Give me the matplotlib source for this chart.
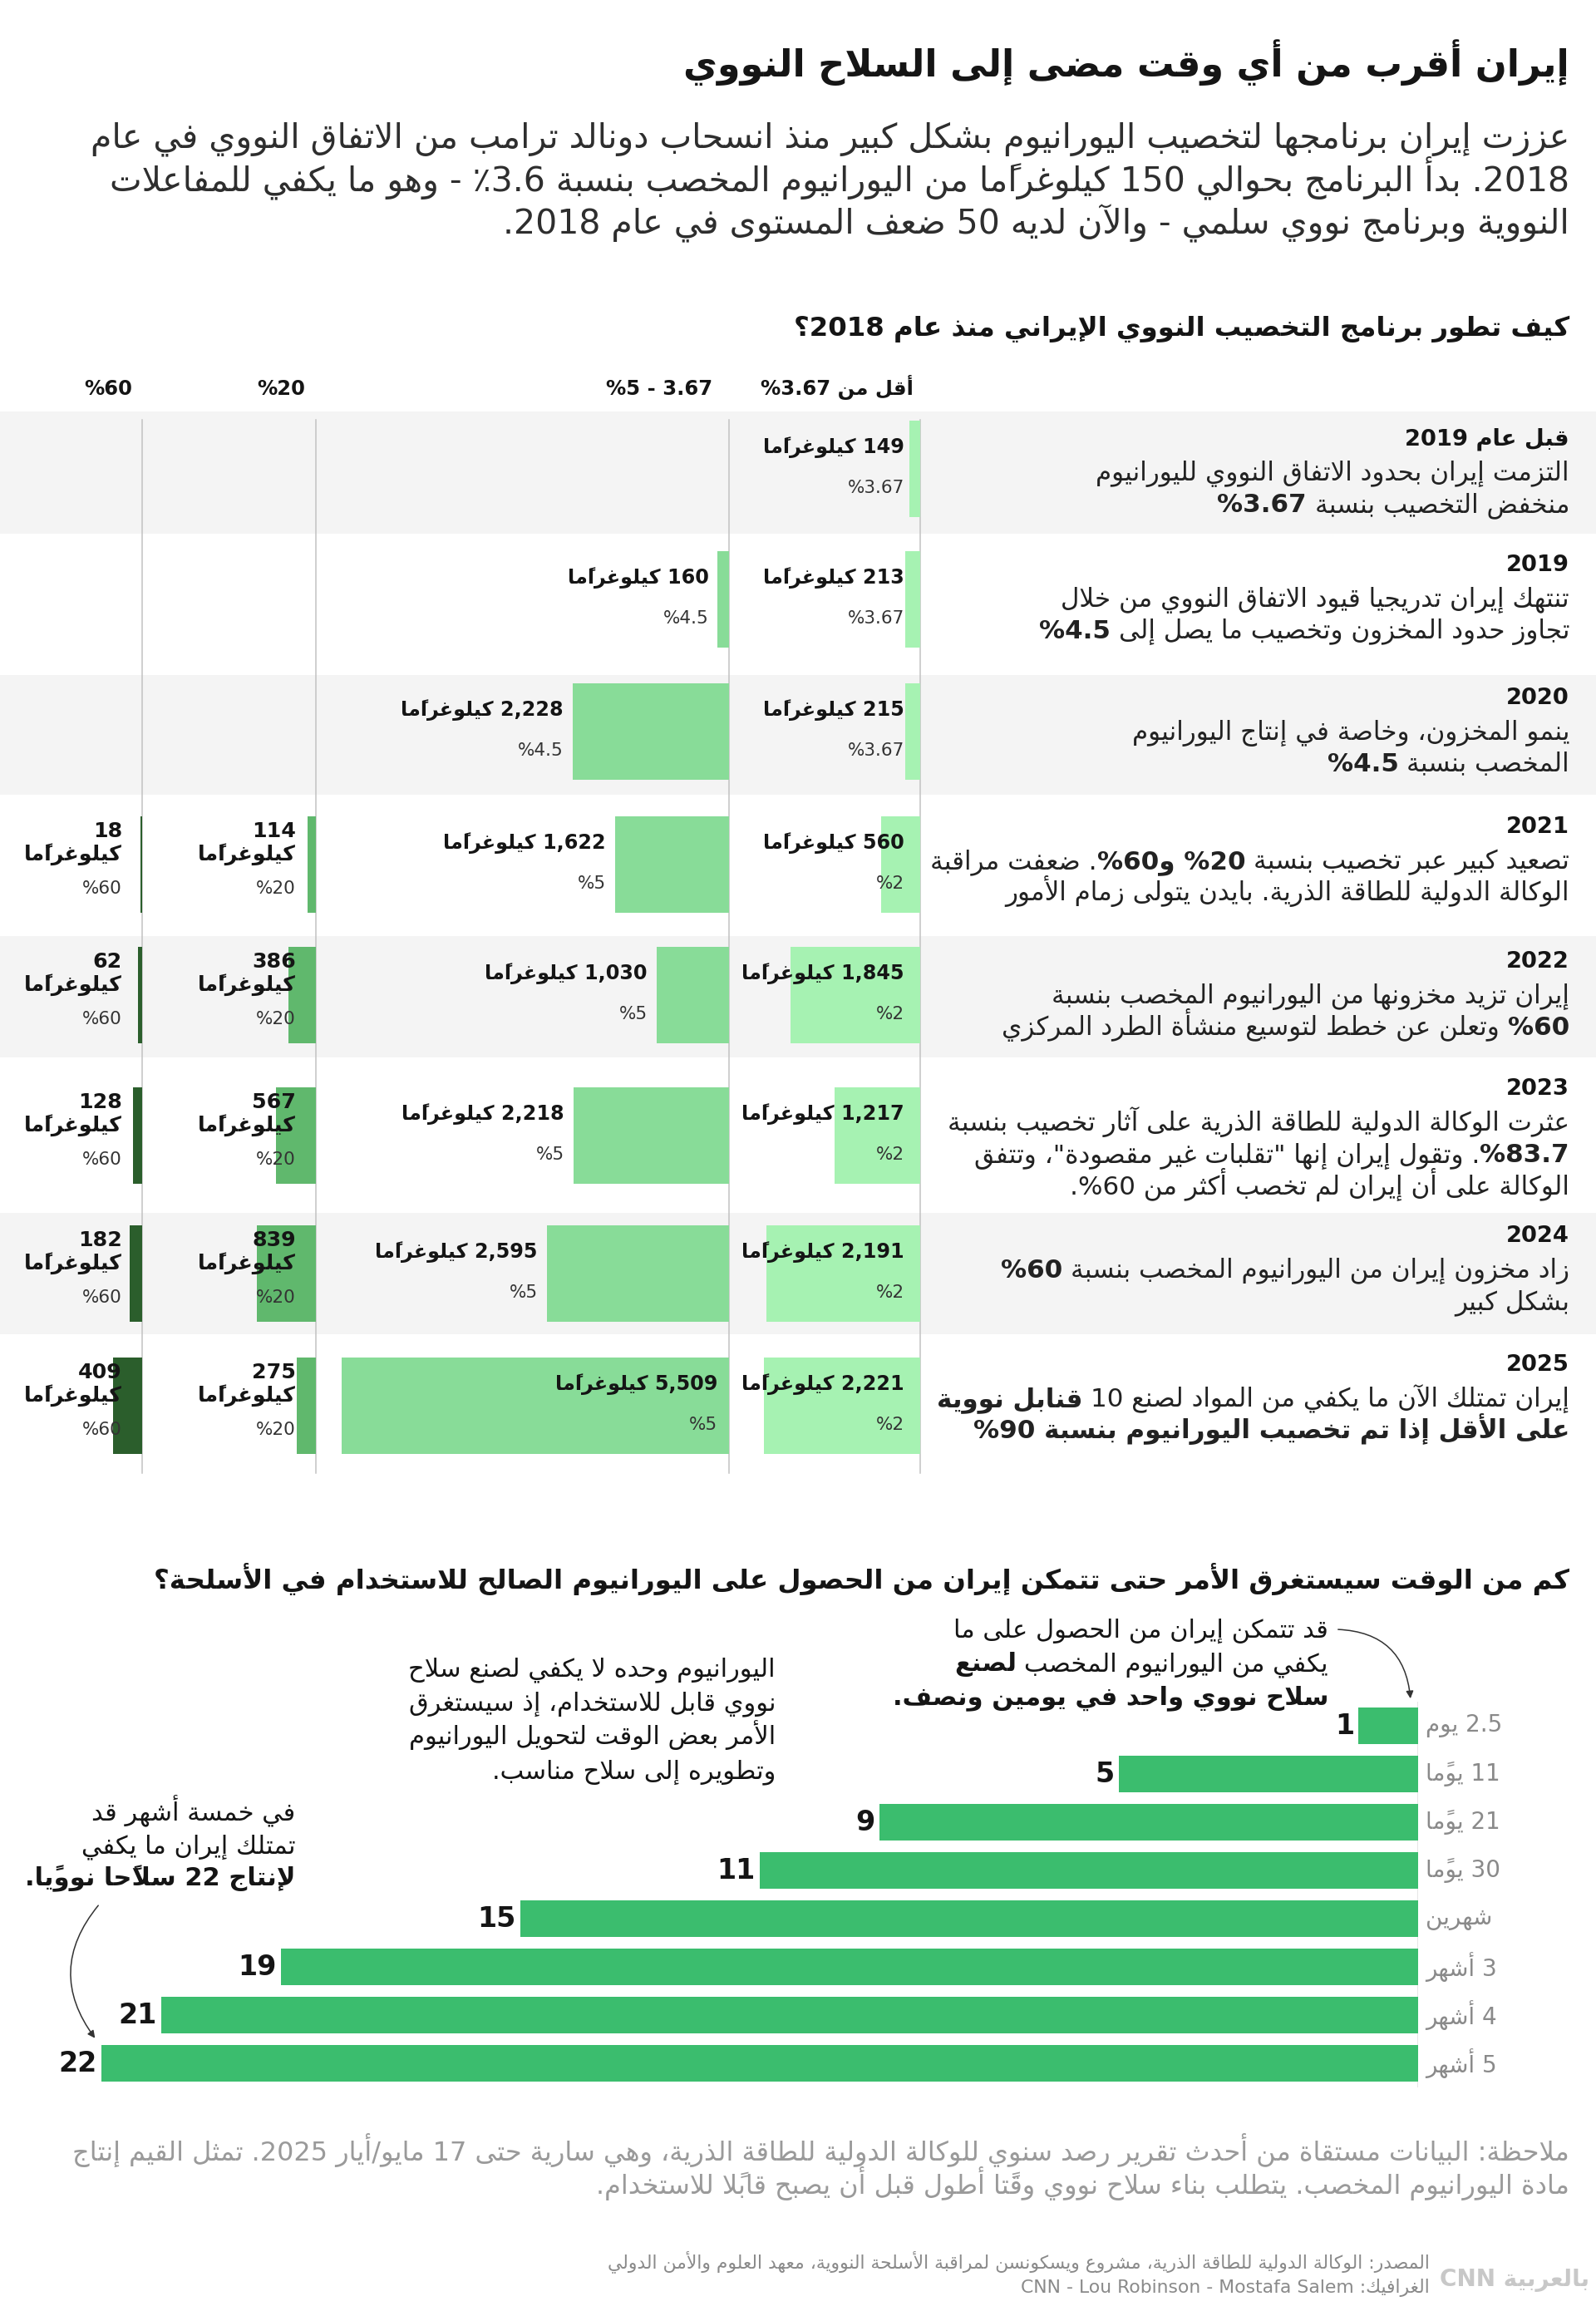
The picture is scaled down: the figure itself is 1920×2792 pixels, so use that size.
import matplotlib
matplotlib.use("Agg")
import matplotlib.pyplot as plt
from matplotlib.patches import Rectangle, FancyArrowPatch

# ---------------- data ----------------
title = "إيران أقرب من أي وقت مضى إلى السلاح النووي"
subtitle = [
    "عززت إيران برنامجها لتخصيب اليورانيوم بشكل كبير منذ انسحاب دونالد ترامب من الاتفاق النووي في عام",
    "2018. بدأ البرنامج بحوالي 150 كيلوغرامًا من اليورانيوم المخصب بنسبة 3.6٪ - وهو ما يكفي للمفاعلات",
    "النووية وبرنامج نووي سلمي - والآن لديه 50 ضعف المستوى في عام 2018.",
]
section1 = "كيف تطور برنامج التخصيب النووي الإيراني منذ عام 2018؟"
col_headers = ["أقل من 3.67%", "3.67 - 5%", "20%", "60%"]

years = ["قبل عام 2019", "2019", "2020", "2021", "2022", "2023", "2024", "2025"]
notes = [
    [[("التزمت إيران بحدود الاتفاق النووي لليورانيوم", False)],
     [("منخفض التخصيب بنسبة ", False), ("3.67%", True)]],
    [[("تنتهك إيران تدريجيا قيود الاتفاق النووي من خلال", False)],
     [("تجاوز حدود المخزون وتخصيب ما يصل إلى ", False), ("4.5%", True)]],
    [[("ينمو المخزون، وخاصة في إنتاج اليورانيوم", False)],
     [("المخصب بنسبة ", False), ("4.5%", True)]],
    [[("تصعيد كبير عبر تخصيب بنسبة ", False), ("20% و60%", True), (". ضعفت مراقبة", False)],
     [("الوكالة الدولية للطاقة الذرية. بايدن يتولى زمام الأمور", False)]],
    [[("إيران تزيد مخزونها من اليورانيوم المخصب بنسبة", False)],
     [("60%", True), (" وتعلن عن خطط لتوسيع منشأة الطرد المركزي", False)]],
    [[("عثرت الوكالة الدولية للطاقة الذرية على آثار تخصيب بنسبة", False)],
     [("83.7%", True), ('. وتقول إيران إنها "تقلبات غير مقصودة"، وتتفق', False)],
     [("الوكالة على أن إيران لم تخصب أكثر من 60%.", False)]],
    [[("زاد مخزون إيران من اليورانيوم المخصب بنسبة ", False), ("60%", True)],
     [("بشكل كبير", False)]],
    [[("إيران تمتلك الآن ما يكفي من المواد لصنع 10 ", False), ("قنابل نووية", True)],
     [("على الأقل إذا تم تخصيب اليورانيوم بنسبة 90%", True)]],
]

kg_low = [149, 213, 215, 560, 1845, 1217, 2191, 2221]
pct_low = ["3.67%", "3.67%", "3.67%", "2%", "2%", "2%", "2%", "2%"]
kg_mid = [0, 160, 2228, 1622, 1030, 2218, 2595, 5509]
pct_mid = ["", "4.5%", "4.5%", "5%", "5%", "5%", "5%", "5%"]
kg_20 = [0, 0, 0, 114, 386, 567, 839, 275]
pct_20 = ["", "", "", "20%", "20%", "20%", "20%", "20%"]
kg_60 = [0, 0, 0, 18, 62, 128, 182, 409]
pct_60 = ["", "", "", "60%", "60%", "60%", "60%", "60%"]
kg_word = "كيلوغرامًا"

section2 = "كم من الوقت سيستغرق الأمر حتى تتمكن إيران من الحصول على اليورانيوم الصالح للاستخدام في الأسلحة؟"
times = ["2.5 يوم", "11 يومًا", "21 يومًا", "30 يومًا", "شهرين", "3 أشهر", "4 أشهر", "5 أشهر"]
weapons = [1, 5, 9, 11, 15, 19, 21, 22]

note_right = [[("قد تتمكن إيران من الحصول على ما", False)],
              [("يكفي من اليورانيوم المخصب ", False), ("لصنع", True)],
              [("سلاح نووي واحد في يومين ونصف.", True)]]
note_mid = [[("اليورانيوم وحده لا يكفي لصنع سلاح", False)],
            [("نووي قابل للاستخدام، إذ سيستغرق", False)],
            [("الأمر بعض الوقت لتحويل اليورانيوم", False)],
            [("وتطويره إلى سلاح مناسب.", False)]]
note_left = [[("في خمسة أشهر قد", False)],
             [("تمتلك إيران ما يكفي", False)],
             [("لإنتاج 22 سلاحًا نوويًا.", True)]]

footnote = [
    "ملاحظة: البيانات مستقاة من أحدث تقرير رصد سنوي للوكالة الدولية للطاقة الذرية، وهي سارية حتى 17 مايو/أيار 2025. تمثل القيم إنتاج",
    "مادة اليورانيوم المخصب. يتطلب بناء سلاح نووي وقتًا أطول قبل أن يصبح قابلًا للاستخدام.",
]
source = [
    "المصدر: الوكالة الدولية للطاقة الذرية، مشروع ويسكونسن لمراقبة الأسلحة النووية، معهد العلوم والأمن الدولي",
    "الغرافيك: CNN - Lou Robinson - Mostafa Salem",
]
logo = "بالعربية CNN"

# ---------------- arabic shaping + simple bidi ----------------
_FORMS = {
    0x0621: (0xFE80, 1), 0x0622: (0xFE81, 2), 0x0623: (0xFE83, 2), 0x0624: (0xFE85, 2),
    0x0625: (0xFE87, 2), 0x0626: (0xFE89, 4), 0x0627: (0xFE8D, 2), 0x0628: (0xFE8F, 4),
    0x0629: (0xFE93, 2), 0x062A: (0xFE95, 4), 0x062B: (0xFE99, 4), 0x062C: (0xFE9D, 4),
    0x062D: (0xFEA1, 4), 0x062E: (0xFEA5, 4), 0x062F: (0xFEA9, 2), 0x0630: (0xFEAB, 2),
    0x0631: (0xFEAD, 2), 0x0632: (0xFEAF, 2), 0x0633: (0xFEB1, 4), 0x0634: (0xFEB5, 4),
    0x0635: (0xFEB9, 4), 0x0636: (0xFEBD, 4), 0x0637: (0xFEC1, 4), 0x0638: (0xFEC5, 4),
    0x0639: (0xFEC9, 4), 0x063A: (0xFECD, 4), 0x0641: (0xFED1, 4), 0x0642: (0xFED5, 4),
    0x0643: (0xFED9, 4), 0x0644: (0xFEDD, 4), 0x0645: (0xFEE1, 4), 0x0646: (0xFEE5, 4),
    0x0647: (0xFEE9, 4), 0x0648: (0xFEED, 2), 0x0649: (0xFEEF, 2), 0x064A: (0xFEF1, 4),
}
_LAMALEF = {0x0622: 0xFEF5, 0x0623: 0xFEF7, 0x0625: 0xFEF9, 0x0627: 0xFEFB}


def is_mark(c):
    o = ord(c)
    return 0x064B <= o <= 0x065F or o == 0x0670


def nforms(c):
    o = ord(c)
    if o == 0x0640:
        return 4
    return _FORMS[o][1] if o in _FORMS else 0


def shape(s):
    idx = [i for i, c in enumerate(s) if not is_mark(c)]
    prv, nxt = {}, {}
    for k, i in enumerate(idx):
        prv[i] = idx[k - 1] if k > 0 else None
        nxt[i] = idx[k + 1] if k + 1 < len(idx) else None
    out, skip = [], set()
    for i, c in enumerate(s):
        if i in skip:
            continue
        o = ord(c)
        if is_mark(c) or o not in _FORMS:
            out.append(c)
            continue
        p, n = prv[i], nxt[i]
        jp = p is not None and nforms(s[p]) == 4
        if o == 0x0644 and n is not None and ord(s[n]) in _LAMALEF:
            out.append(chr(_LAMALEF[ord(s[n])] + (1 if jp else 0)))
            skip.add(n)
            continue
        base, cnt = _FORMS[o]
        jn = cnt == 4 and n is not None and nforms(s[n]) >= 2
        if cnt == 1:
            f = base
        elif cnt == 2:
            f = base + 1 if jp else base
        else:
            f = base + (3 if jp and jn else 1 if jp else 2 if jn else 0)
        out.append(chr(f))
    return ''.join(out)


def visual(s):
    s = shape(s)
    cl = []
    for c in s:
        if is_mark(c) and cl:
            cl[-1] += c
        else:
            cl.append(c)
    n = len(cl)
    types = []
    for c in cl:
        o = ord(c[0])
        if 0x0600 <= o <= 0x06FF or 0xFB50 <= o <= 0xFEFC:
            types.append('R')
        elif c[0].isdigit():
            types.append('EN')
        elif c[0].isalpha():
            types.append('L')
        else:
            types.append('N')
    for k in range(1, n - 1):
        if cl[k] in '.,' and types[k - 1] == 'EN' and types[k + 1] == 'EN':
            types[k] = 'EN'
    last = 'R'
    for k, t in enumerate(types):
        if t in ('R', 'L'):
            last = t
        elif t == 'EN' and last == 'L':
            types[k] = 'L'
    k = 0
    while k < n:
        if types[k] == 'N':
            j = k
            while j < n and types[j] == 'N':
                j += 1
            before = 'R' if k == 0 or types[k - 1] != 'L' else 'L'
            after = 'R' if j == n or types[j] != 'L' else 'L'
            d = before if before == after else 'R'
            for m in range(k, j):
                types[m] = d
            k = j
        else:
            k += 1
    res = cl[:]
    k = 0
    while k < n:
        if types[k] != 'R':
            j = k
            while j < n and types[j] != 'R':
                j += 1
            res[k:j] = res[k:j][::-1]
            k = j
        else:
            k += 1
    return ''.join(res[::-1])


# ---------------- figure ----------------
W, H = 1920, 2792
FONT = 'DejaVu Sans'
plt.rcParams['font.family'] = [FONT]
fig = plt.figure(figsize=(W / 100, H / 100), dpi=100)
fig.patch.set_facecolor('white')
renderer = fig.canvas.get_renderer()

INK = '#151515'
BODY = '#222222'
GREY = '#9a9a9a'
C_LOW, C_MID, C_20, C_60 = '#a6f2b2', '#88dc98', '#60b86d', '#2b5e2c'
C_BAR = '#3bbd6e'


def em(size):
    return size * 100 / 72


def text_w(s, size, bold=False):
    t = fig.text(0, 0, visual(s), fontsize=size, fontweight='bold' if bold else 'normal')
    w = t.get_window_extent(renderer).width
    t.remove()
    return w


def line_w(segs, size):
    w = 0
    for s, b in segs:
        sw = em(size) * (0.348 if b else 0.318)
        w += text_w(s.strip(' '), size, b)
        w += (len(s) - len(s.strip(' '))) * sw
    return w


def fit(lines, targets, bold=False, pick=min):
    # font size that brings the lines to the widths they have in the reference
    if not isinstance(targets, (list, tuple)):
        targets = [targets] * len(lines)
    scales = []
    for s, tw in zip(lines, targets):
        w = line_w(s, 20) if isinstance(s, list) else text_w(s, 20, bold)
        scales.append(20 * tw / w)
    return pick(scales)


def median(v):
    v = sorted(v)
    return v[len(v) // 2]


def put(x, y, s, size, bold=False, color=INK, ha='right'):
    return fig.text(x / W, 1 - (y + 0.27 * em(size)) / H, visual(s), fontsize=size,
                    fontweight='bold' if bold else 'normal', color=color, ha=ha, va='baseline')


def rline(x, y, segs, size, color=BODY):
    cur = x
    for s, b in segs:
        sw = em(size) * (0.348 if b else 0.318)
        cur -= (len(s) - len(s.lstrip(' '))) * sw
        t = put(cur, y, s.strip(' '), size, b, color)
        cur -= t.get_window_extent(renderer).width
        cur -= (len(s) - len(s.rstrip(' '))) * sw


ax_bg = fig.add_axes([0, 0, 1, 1], zorder=0)
ax_bg.set_xlim(0, W)
ax_bg.set_ylim(H, 0)
ax_bg.axis('off')

RIGHT = 1888

# ---- header ----
put(RIGHT, 80, title, fit([title], 1063, bold=True), True, INK)
s_sub = fit(subtitle, [1803, 1717, 1282], pick=median)
s_sub = min(s_sub, fit(subtitle, 1805))
for k, line in enumerate(subtitle):
    put(RIGHT, 166 + k * 52, line, s_sub, False, '#2e2e2e')

s_sec1 = fit([section1], 912, bold=True)
s_sec2 = fit([section2], 1738, bold=True)
s_sec = (s_sec1 + s_sec2) / 2
put(RIGHT, 395, section1, s_sec, True, INK)

# ---- top table ----
BAND = [495, 642, 812, 956, 1126, 1272, 1459, 1605, 1772]
YEAR_Y = [528, 680, 840, 995, 1157, 1310, 1487, 1642]
BAR_Y = [564, 721, 880, 1040, 1197, 1366, 1532, 1691]
BAR_H = 116
KG_PX = 0.0845            # pixels per kg
COL_EDGES = [(877, 1107), (380, 877), (171, 380), (0, 171)]
HEAD_X = [1099, 857, 367, 159]

for i in range(len(years)):
    if i % 2 == 0:
        ax_bg.add_patch(Rectangle((0, BAND[i]), W, BAND[i + 1] - BAND[i],
                                  facecolor='#f4f4f4', edgecolor='none', zorder=0))
for x0, x1 in COL_EDGES:
    ax_bg.plot([x1, x1], [505, 1772], color='#c2c2c2', lw=1.1, zorder=1)

s_head = fit([col_headers[0]], 184, bold=True)
for hx, h in zip(HEAD_X, col_headers):
    put(hx, 468, h, s_head, True, INK)

note_lines = [l for r in notes for l in r]
note_targets = [586, 436, 657, 638, 540, 298, 766, 688, 648, 718, 771, 732, 586, 693, 152, 773, 684]
s_note = min(fit(note_lines, note_targets, pick=median), fit(note_lines, 768))
s_year = min(fit([years[0]], 198, bold=True), s_note * 1.12)
for i, yr in enumerate(years):
    put(RIGHT, YEAR_Y[i], yr, s_year, True, INK)
    for k, segs in enumerate(notes[i]):
        rline(RIGHT, YEAR_Y[i] + 42 + k * 38, segs, s_note)

s_kg = fit(["2,228 " + kg_word], 196, bold=True)
s_pct = s_kg * 0.9
s_kg2 = fit([kg_word], 118, bold=True)

columns = [(kg_low, pct_low, C_LOW), (kg_mid, pct_mid, C_MID), (kg_20, pct_20, C_20), (kg_60, pct_60, C_60)]
for j, ((x0, x1), (kgs, pcts, color)) in enumerate(zip(COL_EDGES, columns)):
    ax = fig.add_axes([x0 / W, 1 - BAND[-1] / H, (x1 - x0) / W, (BAND[-1] - BAND[0]) / H], zorder=1)
    ax.set_xlim((x1 - x0) / KG_PX, 0)
    ax.set_ylim(BAND[-1], BAND[0])
    ax.axis('off')
    ax.barh(BAR_Y, kgs, height=BAR_H, color=color, zorder=2)
    for i, v in enumerate(kgs):
        if v == 0:
            continue
        top = BAR_Y[i] - BAR_H / 2
        if j < 2:
            if j == 0:
                lx = 19 / KG_PX
            elif v * KG_PX > 300:
                lx = 14 / KG_PX
            else:
                lx = v + 11 / KG_PX
            ax.text(lx, top + 33 + 0.27 * em(s_kg), visual(f"{v:,} " + kg_word), fontsize=s_kg,
                    fontweight='bold', color=INK, ha='right', va='baseline', zorder=5)
            ax.text(lx, top + 81 + 0.27 * em(s_pct), visual(pcts[i]), fontsize=s_pct,
                    color='#333333', ha='right', va='baseline', zorder=5)
        else:
            lx = 24 / KG_PX
            ax.text(lx, top + 18 + 0.27 * em(s_kg2), visual(f"{v:,}"), fontsize=s_kg2,
                    fontweight='bold', color=INK, ha='right', va='baseline', zorder=5)
            ax.text(lx, top + 46 + 0.27 * em(s_kg2), visual(kg_word), fontsize=s_kg2,
                    fontweight='bold', color=INK, ha='right', va='baseline', zorder=5)
            ax.text(lx, top + 87 + 0.27 * em(s_pct), visual(pcts[i]), fontsize=s_pct,
                    color='#333333', ha='right', va='baseline', zorder=5)

# ---- bottom chart ----
put(RIGHT, 1903, section2, s_sec, True, INK)

B_RIGHT, B_LEFT, B_TOP, ROW = 1706, 40, 2047, 58
W_PX = 72.0  # pixels per weapon
ax2 = fig.add_axes([B_LEFT / W, 1 - (B_TOP + ROW * len(weapons)) / H,
                    (B_RIGHT - B_LEFT) / W, ROW * len(weapons) / H], zorder=1)
ax2.set_xlim((B_RIGHT - B_LEFT) / W_PX, 0)
ax2.set_ylim(len(weapons) - 0.5, -0.5)
ax2.axis('off')
ax2.axvline(0, color='#e4e4e4', lw=2, zorder=1)
ax2.barh(range(len(weapons)), weapons, height=44 / ROW, color=C_BAR, zorder=2)
s_time = fit([times[0]], 92)
for i, (v, t) in enumerate(zip(weapons, times)):
    ax2.text(v + 5 / W_PX, i, str(v), fontsize=24, fontweight='bold', color=INK,
             ha='right', va='center')
    ax2.text(-9 / W_PX, i, visual(t), fontsize=s_time, color='#8a8a8a', ha='left', va='center')

s_ann = median([fit(note_right, [477, 502, 522]), fit(note_mid, [490, 490, 486, 372]),
                fit(note_left, [276, 271, 317])])
for k, segs in enumerate(note_right):
    rline(1598, 1962 + k * 40, segs, s_ann, INK)
for k, segs in enumerate(note_mid):
    rline(933, 2008 + k * 41, segs, s_ann, INK)
for k, segs in enumerate(note_left):
    rline(355, 2182 + k * 39, segs, s_ann, INK)

arr1 = FancyArrowPatch((1607 / W, 1 - 1960 / H), (1697 / W, 1 - 2046 / H),
                       transform=fig.transFigure, connectionstyle='arc3,rad=-0.45',
                       arrowstyle='-|>', mutation_scale=13, lw=1.1, color='#333333')
arr2 = FancyArrowPatch((120 / W, 1 - 2290 / H), (116 / W, 1 - 2454 / H),
                       transform=fig.transFigure, connectionstyle='arc3,rad=0.4',
                       arrowstyle='-|>', mutation_scale=13, lw=1.1, color='#333333')
fig.add_artist(arr1)
fig.add_artist(arr2)

# ---- footer ----
s_foot = fit(footnote, [1799, 1220])
for k, line in enumerate(footnote):
    put(RIGHT, 2590 + k * 40, line, s_foot, False, GREY)
s_src = fit(source, [1086, 490])
for k, line in enumerate(source):
    put(1720, 2722 + k * 30, line, s_src, False, '#8a8a8a')
put(1912, 2742, logo, fit([logo], 180, bold=True), True, '#c8c8c8')

fig.savefig('out.png', dpi=100, facecolor='white')
